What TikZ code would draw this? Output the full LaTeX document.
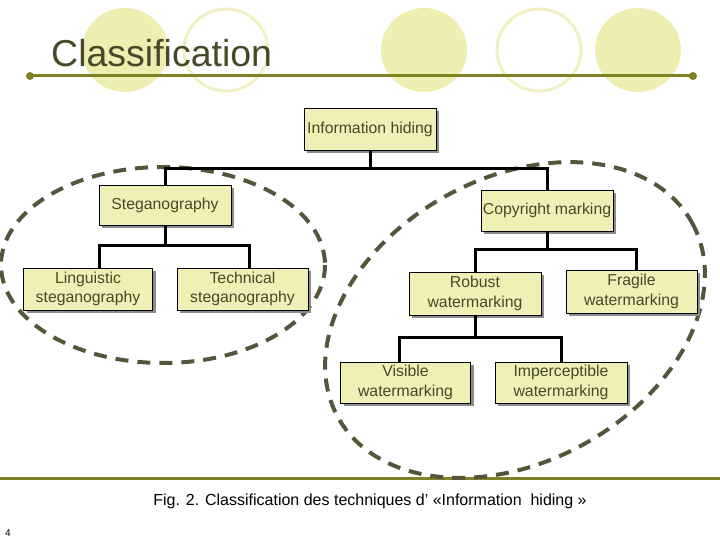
\documentclass[tikz,border=0pt]{standalone}
\usepackage{fontspec}
\setmainfont{Liberation Sans}
\usetikzlibrary{shadows}
\definecolor{boxfill}{RGB}{240,240,182}
\definecolor{txt}{RGB}{72,72,40}
\definecolor{olive}{RGB}{128,128,38}
\definecolor{circfill}{RGB}{238,238,178}
\definecolor{circring}{RGB}{240,240,196}
\definecolor{dashcol}{RGB}{85,85,60}
\begin{document}
\begin{tikzpicture}[x=1pt,y=-1pt,
  box/.style={draw=black, line width=0.8pt, fill=boxfill, align=center, text=txt,
    font=\fontsize{15.8}{19.5}\selectfont, inner sep=0pt,
    drop shadow={shadow xshift=3pt, shadow yshift=-3pt, fill=black!45, opacity=1}},
  conn/.style={draw=black, line width=3pt},
  grp/.style={draw=dashcol, line width=4pt, dash pattern=on 13pt off 9pt},
  ring/.style={draw=circring, line width=3pt}]
\useasboundingbox (0,0) rectangle (720,540);
% header circles
\fill[circfill] (125,50) ellipse [x radius=43, y radius=42];
\draw[ring] (226,50) ellipse [x radius=42, y radius=41];
\fill[circfill] (424,50) ellipse [x radius=43, y radius=42];
\draw[ring] (539,50) ellipse [x radius=42, y radius=41];
\fill[circfill] (638,50) ellipse [x radius=43, y radius=42];
\node[anchor=base west, inner sep=0pt, text=txt, font=\fontsize{37.5}{40}\selectfont] (title) at (51,67) {Classification};
\draw[olive, line width=3pt] (30,76) -- (693,76);
\fill[olive] (30,76) circle (4) (693,76) circle (4);
\draw[olive, line width=3pt] (0,478) -- (720,478);
% group ellipses
\draw[grp] (163,265) ellipse [x radius=162, y radius=98];
\draw[grp, rotate around={28.7:(515,320)}] (515,320) ellipse [x radius=202, y radius=142];
% boxes
\node[box, minimum width=132, minimum height=42] (info) at (370,129) {Information hiding};
\node[box, minimum width=132, minimum height=40] (steg) at (165,205) {Steganography};
\node[box, minimum width=132, minimum height=41] (copy) at (547,210.5) {Copyright marking};
\node[box, minimum width=129, minimum height=42] (ling) at (88,289) {Linguistic\\steganography};
\node[box, minimum width=131, minimum height=42] (tech) at (242.5,289) {Technical\\steganography};
\node[box, minimum width=132, minimum height=43] (rob) at (475,293.5) {Robust\\watermarking};
\node[box, minimum width=131, minimum height=43] (frag) at (631.5,291.5) {Fragile\\watermarking};
\node[box, minimum width=130, minimum height=41] (vis) at (405.5,382.5) {Visible\\watermarking};
\node[box, minimum width=132, minimum height=41] (imp) at (561,382.5) {Imperceptible\\watermarking};
% connectors
\draw[conn] (info.south) -- ++(0,18) coordinate (j1);
\draw[conn] (j1) -| (steg.north);
\draw[conn] (j1) -| (copy.north);
\draw[conn] (steg.south) -- ++(0,20) coordinate (j2);
\draw[conn] (j2) -| ([xshift=11pt]ling.north);
\draw[conn] (j2) -| ([xshift=7pt]tech.north);
\draw[conn] (copy.south) -- ++(0,18) coordinate (j3);
\draw[conn] (j3) -| ([xshift=0pt]rob.north);
\draw[conn] (j3) -| ([xshift=5pt]frag.north);
\draw[conn] (rob.south) -- ++(0,22) coordinate (j4);
\draw[conn] (j4) -| ([xshift=-6pt]vis.north);
\draw[conn] (j4) -| ([xshift=0pt]imp.north);
% caption
\node[anchor=base, inner sep=0pt, font=\fontsize{16}{19}\selectfont] (cap) at (370,505) {Fig. 2. Classification des techniques d' «Information\ \ hiding »};
\node[anchor=base west, inner sep=0pt, font=\fontsize{10}{12}\selectfont] (num) at (5,536) {4};
\end{tikzpicture}
\end{document}
